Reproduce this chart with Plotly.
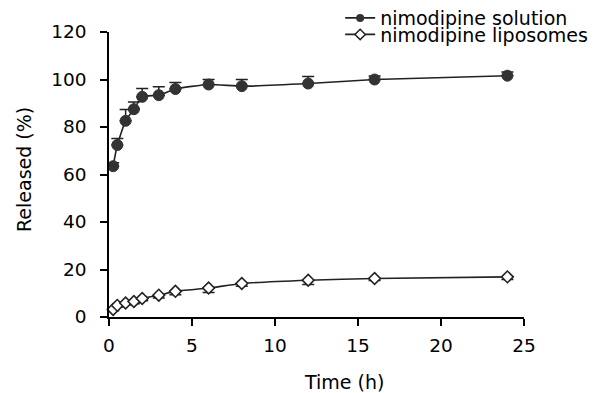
import plotly.graph_objects as go

time_h = [0.25, 0.5, 1, 1.5, 2, 3, 4, 6, 8, 12, 16, 24]
solution = [63.5, 72.4, 82.6, 87.5, 92.7, 93.4, 96.0, 97.9, 97.2, 98.3, 100.0, 101.6]
solution_err = [1.5, 2.8, 4.8, 3.0, 3.5, 3.5, 2.7, 2.1, 2.8, 3.0, 1.5, 1.6]
liposomes = [3.2, 4.9, 5.9, 6.5, 7.8, 9.2, 10.8, 12.2, 14.1, 15.5, 16.2, 16.9]
liposomes_err = [0.6, 0.7, 0.8, 0.9, 1.0, 1.2, 1.4, 1.9, 1.1, 1.8, 0.8, 1.1]
x_ticks = [0, 5, 10, 15, 20, 25]
y_ticks = [0, 20, 40, 60, 80, 100, 120]

FONT = "DejaVu Sans"
INK = "#222222"

fig = go.Figure()
fig.add_trace(go.Scatter(
    x=time_h, y=solution, mode="lines+markers",
    line=dict(color=INK, width=1.6, shape="spline", smoothing=0.5),
    marker=dict(symbol="circle", size=11, color="#333333", line=dict(color="#333333", width=1)),
    error_y=dict(type="data", symmetric=False, array=solution_err, arrayminus=[0]*len(time_h),
                 color=INK, thickness=1.5, width=6),
    cliponaxis=False, showlegend=False))
fig.add_trace(go.Scatter(
    x=time_h, y=liposomes, mode="lines+markers",
    line=dict(color=INK, width=1.6, shape="spline", smoothing=0.5),
    marker=dict(symbol="diamond", size=9, color="white", line=dict(color=INK, width=1.6)),
    error_y=dict(type="data", symmetric=False, array=[0]*len(time_h), arrayminus=liposomes_err,
                 color=INK, thickness=1.5, width=6),
    cliponaxis=False, showlegend=False))

# legend entries
fig.add_trace(go.Scatter(x=[None], y=[None], mode="lines+markers", name="nimodipine solution",
                         line=dict(color=INK, width=1.6), legend="legend",
                         marker=dict(symbol="circle", size=8, color="#333333")))
fig.add_trace(go.Scatter(x=[None], y=[None], mode="lines+markers", name="nimodipine liposomes",
                         line=dict(color=INK, width=1.6), legend="legend2",
                         marker=dict(symbol="diamond", size=8, color="white",
                                     line=dict(color=INK, width=1.5))))

leg_common = dict(xanchor="left", yanchor="middle", bgcolor="rgba(0,0,0,0)",
                  font=dict(family=FONT, size=19, color="black"))

# the page body adds an 8px offset, so margins are shifted to compensate
fig.update_layout(
    width=600, height=393,
    margin=dict(l=101, r=84, t=24, b=84, autoexpand=False),
    plot_bgcolor="white", paper_bgcolor="white",
    font=dict(family=FONT, size=18.5, color="black"),
    legend=dict(x=0.557, y=1.049, **leg_common),
    legend2=dict(x=0.557, y=0.991, **leg_common),
    xaxis=dict(range=[0, 25], tickvals=x_ticks, showline=True, linecolor="black",
               linewidth=1.5, ticks="outside", ticklen=7, tickcolor="black", tickwidth=1.5,
               showgrid=False, zeroline=False, automargin=False, ticklabelstandoff=4),
    yaxis=dict(range=[0, 120], tickvals=y_ticks, showline=True, linecolor="black",
               linewidth=1.5, ticks="outside", ticklen=7, tickcolor="black", tickwidth=1.5,
               showgrid=False, zeroline=False, automargin=False, ticklabelstandoff=10),
    annotations=[
        dict(text="Time (h)", xref="paper", yref="paper", x=0.566, y=-0.228,
             xanchor="center", yanchor="middle", showarrow=False,
             font=dict(family=FONT, size=19, color="black")),
        dict(text="Released (%)", xref="paper", yref="paper", x=-0.2048, y=0.5158,
             xanchor="center", yanchor="middle", showarrow=False, textangle=-90,
             font=dict(family=FONT, size=19, color="black")),
    ],
)

fig.write_html("out.html")
